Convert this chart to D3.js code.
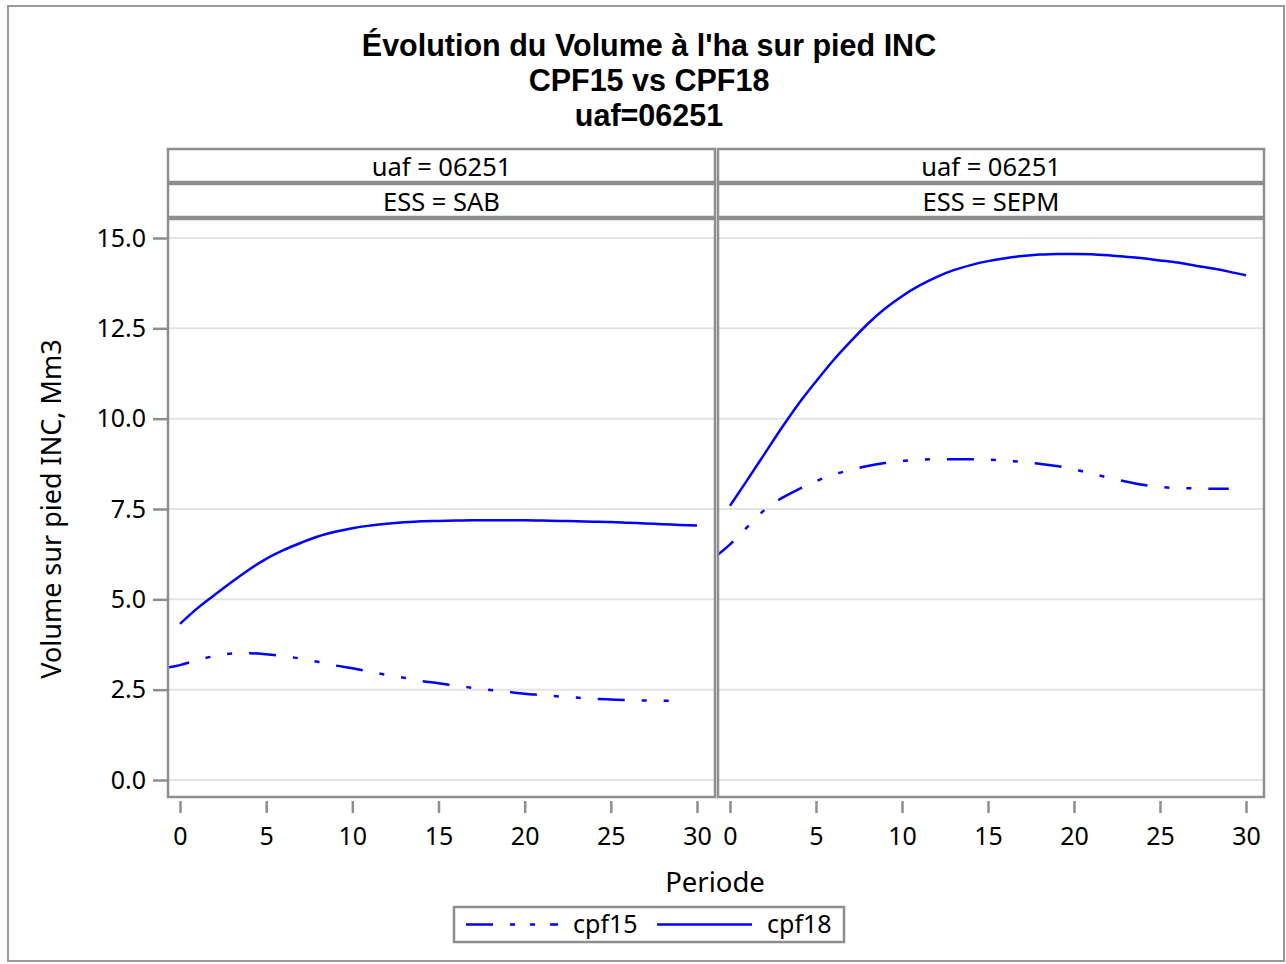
<!DOCTYPE html>
<html>
<head>
<meta charset="utf-8">
<script src="https://cdn.jsdelivr.net/npm/d3@7"></script>
<style>
  body { margin: 0; background: #fff; }
  svg { display: block; }
  text { font-family: "Noto Sans", sans-serif; fill: #000; }
  text.title { font-family: "Liberation Sans", Arial, sans-serif; }
</style>
</head>
<body>
<svg id="chart" width="1286" height="964"></svg>
<script>
// --- data ---
var titleLines = ["Évolution du Volume à l'ha sur pied INC", "CPF15 vs CPF18", "uaf=06251"];
var uaf = "06251";
var essPanels = ["SAB", "SEPM"];
var seriesNames = ["cpf15", "cpf18"];

var periodsCpf15 = [-1, 0, 1, 2, 3, 4, 5, 6, 7, 8, 9, 10, 11, 12, 13, 14, 15, 16, 17, 18, 19, 20, 21, 22, 23, 24, 25, 26, 27, 28, 29];
var periodsCpf18 = [0, 1, 2, 3, 4, 5, 6, 7, 8, 9, 10, 11, 12, 13, 14, 15, 16, 17, 18, 19, 20, 21, 22, 23, 24, 25, 26, 27, 28, 29, 30];

var sabCpf15 = [3.09, 3.18, 3.32, 3.43, 3.50, 3.51, 3.48, 3.43, 3.36, 3.27, 3.17, 3.09, 3.00, 2.91, 2.83, 2.74,
                2.68, 2.61, 2.55, 2.49, 2.44, 2.39, 2.35, 2.31, 2.28, 2.25, 2.23, 2.21, 2.20, 2.19, 2.19];
var sabCpf18 = [4.32, 4.75, 5.12, 5.48, 5.82, 6.12, 6.36, 6.56, 6.74, 6.87, 6.97, 7.04, 7.09, 7.13, 7.16, 7.17,
                7.18, 7.19, 7.19, 7.19, 7.19, 7.18, 7.17, 7.16, 7.15, 7.14, 7.12, 7.10, 7.08, 7.06, 7.04];
var sepmCpf15 = [6.12, 6.52, 7.00, 7.47, 7.80, 8.05, 8.27, 8.45, 8.58, 8.69, 8.77, 8.83, 8.86, 8.88, 8.88, 8.88,
                 8.87, 8.84, 8.80, 8.75, 8.69, 8.60, 8.48, 8.37, 8.26, 8.17, 8.11, 8.08, 8.07, 8.06, 8.06];
var sepmCpf18 = [7.59, 8.30, 9.02, 9.74, 10.42, 11.03, 11.61, 12.13, 12.62, 13.04, 13.39, 13.68, 13.92, 14.11, 14.25, 14.36,
                 14.44, 14.50, 14.54, 14.56, 14.56, 14.55, 14.52, 14.48, 14.44, 14.38, 14.32, 14.24, 14.16, 14.07, 13.97];

var xTicks = [0, 5, 10, 15, 20, 25, 30];
var yTicks = [0, 2.5, 5, 7.5, 10, 12.5, 15];

// --- layout ---
var gray = "#8e8e8e";
var blue = "#0000ff";
var dashDot = "27 17 5 17 5 17";
var panelX = [[168, 715], [718, 1264]];
var strip1 = [149, 182], strip2 = [184, 217], plotY = [219, 797];

var svg = d3.select("#chart");

svg.append("rect")
  .attr("x", 8).attr("y", 6).attr("width", 1276).attr("height", 955)
  .attr("fill", "#fff").attr("stroke", "#9a9a9a").attr("stroke-width", 2);

// title
svg.selectAll("text.title").data(titleLines).enter().append("text")
  .attr("class", "title")
  .attr("x", 649).attr("y", function(d, i) { return 56 + i * 35; })
  .attr("text-anchor", "middle")
  .style("font-weight", "bold").style("font-size", "30.5px")
  .text(function(d) { return d; });

var y = d3.scaleLinear().domain([0, 15]).range([780, 238]);

var panelData = [
  {ess: essPanels[0], cpf15: sabCpf15, cpf18: sabCpf18},
  {ess: essPanels[1], cpf15: sepmCpf15, cpf18: sepmCpf18}
];

panelData.forEach(function(p, k) {
  var x0 = panelX[k][0], x1 = panelX[k][1];
  var x = d3.scaleLinear().domain([0, 30]).range([x0 + 12, x1 - 18]);
  var g = svg.append("g");

  // strips
  [[strip1, "uaf = " + uaf], [strip2, "ESS = " + p.ess]].forEach(function(s) {
    g.append("rect")
      .attr("x", x0).attr("y", s[0][0]).attr("width", x1 - x0).attr("height", s[0][1] - s[0][0])
      .attr("fill", "#fff").attr("stroke", gray).attr("stroke-width", 2.5);
    g.append("text")
      .attr("x", (x0 + x1) / 2).attr("y", (s[0][0] + s[0][1]) / 2)
      .attr("text-anchor", "middle").attr("dominant-baseline", "central")
      .style("font-size", "25.5px")
      .text(s[1]);
  });

  // grid
  g.selectAll("line.grid").data(yTicks).enter().append("line")
    .attr("x1", x0).attr("x2", x1)
    .attr("y1", function(d) { return y(d); }).attr("y2", function(d) { return y(d); })
    .attr("stroke", "#e3e3e3").attr("stroke-width", 2);

  // series
  var clipId = "clip" + k;
  svg.append("clipPath").attr("id", clipId).append("rect")
    .attr("x", x0).attr("y", plotY[0]).attr("width", x1 - x0).attr("height", plotY[1] - plotY[0]);

  var line = d3.line()
    .curve(d3.curveMonotoneX)
    .x(function(d) { return x(d[0]); })
    .y(function(d) { return y(d[1]); });

  g.append("path")
    .attr("d", line(d3.zip(periodsCpf15, p.cpf15)))
    .attr("clip-path", "url(#" + clipId + ")")
    .attr("fill", "none").attr("stroke", blue).attr("stroke-width", 2.5)
    .attr("stroke-dasharray", dashDot);

  g.append("path")
    .attr("d", line(d3.zip(periodsCpf18, p.cpf18)))
    .attr("clip-path", "url(#" + clipId + ")")
    .attr("fill", "none").attr("stroke", blue).attr("stroke-width", 2.5);

  // plot frame
  g.append("rect")
    .attr("x", x0).attr("y", plotY[0]).attr("width", x1 - x0).attr("height", plotY[1] - plotY[0])
    .attr("fill", "none").attr("stroke", gray).attr("stroke-width", 2.5);

  // x axis
  var xAxis = g.append("g")
    .attr("transform", "translate(0," + (plotY[1] + 4) + ")")
    .call(d3.axisBottom(x).tickValues(xTicks).tickSize(12).tickPadding(14));
  xAxis.select(".domain").remove();
  xAxis.selectAll("line").attr("stroke", gray).attr("stroke-width", 2.5);
  xAxis.selectAll("text").style("font-size", "25px").attr("fill", "#000");

  if (k === 0) {
    var yAxis = g.append("g")
      .attr("transform", "translate(" + (x0 - 1) + ",0)")
      .call(d3.axisLeft(y).tickValues(yTicks).tickFormat(d3.format(".1f")).tickSize(14).tickPadding(7));
    yAxis.select(".domain").remove();
    yAxis.selectAll("line").attr("stroke", gray).attr("stroke-width", 2.5);
    yAxis.selectAll("text").style("font-size", "25px").attr("fill", "#000");
  }
});

// axis labels
svg.append("text")
  .attr("x", 715).attr("y", 892)
  .attr("text-anchor", "middle").style("font-size", "27.5px")
  .text("Periode");

svg.append("text")
  .attr("transform", "translate(61,509) rotate(-90)")
  .attr("text-anchor", "middle").style("font-size", "27px")
  .text("Volume sur pied INC, Mm3");

// legend
var legend = svg.append("g");
legend.append("rect")
  .attr("x", 454).attr("y", 907).attr("width", 390).attr("height", 35)
  .attr("fill", "#fff").attr("stroke", gray).attr("stroke-width", 2.5);

var legendItems = [
  {name: seriesNames[0], lx: 466, tx: 573, dash: "27 17 5 15 5 15 8"},
  {name: seriesNames[1], lx: 657, tx: 767, dash: null}
];
legendItems.forEach(function(it) {
  legend.append("line")
    .attr("x1", it.lx).attr("x2", it.lx + 95).attr("y1", 924.5).attr("y2", 924.5)
    .attr("stroke", blue).attr("stroke-width", 2.5)
    .attr("stroke-dasharray", it.dash);
  legend.append("text")
    .attr("x", it.tx).attr("y", 933)
    .style("font-size", "25px")
    .text(it.name);
});
</script>
</body>
</html>
